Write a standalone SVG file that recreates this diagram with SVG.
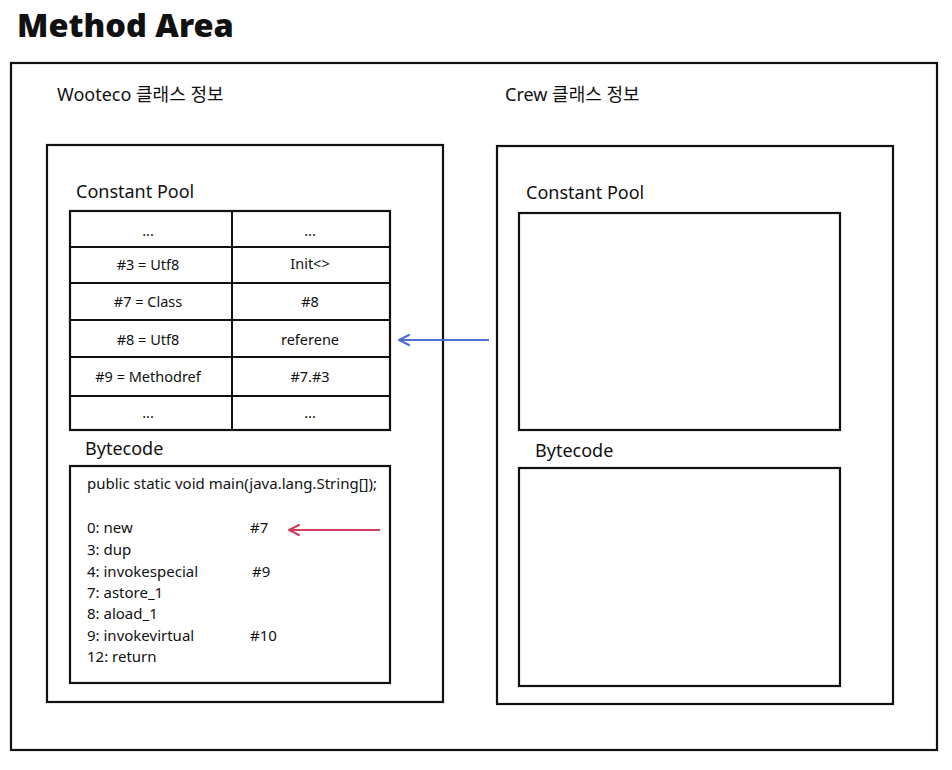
<svg xmlns="http://www.w3.org/2000/svg" width="952" height="770" viewBox="0 0 952 770">
<defs>
<marker id="ab" viewBox="0 0 12 12" refX="10" refY="6" markerWidth="12" markerHeight="12" markerUnits="userSpaceOnUse" orient="auto"><path d="M1,1 L11,6 L1,11" fill="none" stroke="#4a6fd0" stroke-width="2" stroke-linecap="round" stroke-linejoin="round"/></marker>
<marker id="ar" viewBox="0 0 12 12" refX="10" refY="6" markerWidth="12" markerHeight="12" markerUnits="userSpaceOnUse" orient="auto"><path d="M1,1 L11,6 L1,11" fill="none" stroke="#d0405c" stroke-width="2" stroke-linecap="round" stroke-linejoin="round"/></marker>
</defs>
<style>
.box{fill:none;stroke:#111;stroke-width:2.2}
.ln{stroke:#111;stroke-width:2}
text{font-family:"Noto Sans","Noto Sans CJK KR",sans-serif;fill:#111}
.lbl{font-size:18px}
.cell{font-size:14.5px;text-anchor:middle}
.code{font-size:15px}
</style>
<rect width="952" height="770" fill="#fff"/>
<text x="17" y="37" style="font-size:32.5px;font-weight:900" font-family="Noto Sans">Method Area</text>
<g id="method-area"><rect class="box" x="11" y="63" width="926" height="687"/></g>

<g id="wooteco">
<text class="lbl" x="57" y="101">Wooteco 클래스 정보</text>
<rect class="box" x="47" y="145" width="396" height="557"/>
</g>
<g id="wooteco-cp">
<text class="lbl" x="76" y="198">Constant Pool</text>
<rect class="box" x="70" y="211" width="320" height="219"/>
<line class="ln" x1="232" y1="211" x2="232" y2="430"/>
<line class="ln" x1="70" y1="247" x2="390" y2="247"/>
<line class="ln" x1="70" y1="283" x2="390" y2="283"/>
<line class="ln" x1="70" y1="320" x2="390" y2="320"/>
<line class="ln" x1="70" y1="357" x2="390" y2="357"/>
<line class="ln" x1="70" y1="396" x2="390" y2="396"/>
<text class="cell" x="148" y="236">...</text><text class="cell" x="310" y="236">...</text>
<text class="cell" x="148" y="270">#3 = Utf8</text><text class="cell" x="310" y="269">Init&lt;&gt;</text>
<text class="cell" x="148" y="307">#7 = Class</text><text class="cell" x="310" y="307">#8</text>
<text class="cell" x="148" y="345">#8 = Utf8</text><text class="cell" x="310" y="345">referene</text>
<text class="cell" x="148" y="382">#9 = Methodref</text><text class="cell" x="310" y="382">#7.#3</text>
<text class="cell" x="148" y="418">...</text><text class="cell" x="310" y="418">...</text>
</g>
<g id="wooteco-bytecode">
<text class="lbl" x="85" y="455">Bytecode</text>
<rect class="box" x="70" y="466" width="320" height="217"/>
<text class="code" x="87" y="489">public static void main(java.lang.String[]);</text>
<text class="code" x="87" y="533">0: new</text><text class="code" x="250" y="533">#7</text>
<text class="code" x="87" y="555">3: dup</text>
<text class="code" x="87" y="577">4: invokespecial</text><text class="code" x="252" y="577">#9</text>
<text class="code" x="87" y="598">7: astore_1</text>
<text class="code" x="87" y="619">8: aload_1</text>
<text class="code" x="87" y="641">9: invokevirtual</text><text class="code" x="250" y="641">#10</text>
<text class="code" x="87" y="662">12: return</text>
</g>

<g id="crew">
<text class="lbl" x="505" y="101">Crew 클래스 정보</text>
<rect class="box" x="497" y="146" width="396" height="558"/>
</g>
<g id="crew-cp">
<text class="lbl" x="526" y="199">Constant Pool</text>
<rect class="box" x="519" y="213" width="321" height="217"/>
</g>
<g id="crew-bytecode">
<text class="lbl" x="535" y="457">Bytecode</text>
<rect class="box" x="519" y="468" width="321" height="218"/>
</g>

<g id="connectors">
<line x1="489" y1="340" x2="400" y2="340" stroke="#4a6fd0" stroke-width="2" marker-end="url(#ab)"/>
<line x1="380" y1="530" x2="290" y2="530" stroke="#d0405c" stroke-width="2" marker-end="url(#ar)"/>
</g>
</svg>
